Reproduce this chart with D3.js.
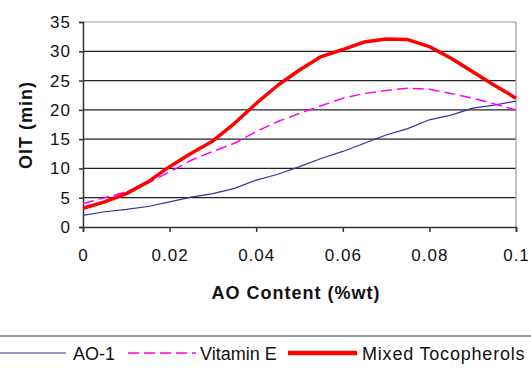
<!DOCTYPE html>
<html lang="en">
<head>
  <meta charset="utf-8">
  <title>OIT vs AO content</title>
  <script src="https://d3js.org/d3.v7.min.js"></script>
  <style>
    body { margin: 0; background: #fff; }
    text { font-family: "Liberation Sans", Arial, sans-serif; }
  </style>
</head>
<body>
<script>
  // AO content (%wt), one reading every 0.005
  var aoContent = d3.range(0, 21).map(function(i) { return +(i * 0.005).toFixed(3); });

  var ao1 = [2.0, 2.6, 3.0, 3.5, 4.3, 5.1, 5.7, 6.6, 8.0, 9.0, 10.3,
             11.7, 12.9, 14.3, 15.7, 16.8, 18.3, 19.1, 20.3, 20.8, 21.5];
  var vitaminE = [4.0, 5.0, 6.0, 7.5, 9.4, 11.4, 12.9, 14.3, 16.3, 18.0, 19.4,
                  20.7, 22.0, 22.8, 23.3, 23.7, 23.5, 22.8, 22.0, 21.0, 20.0];
  var mixedToco = [3.2, 4.3, 5.7, 7.7, 10.3, 12.6, 14.7, 17.7, 21.1, 24.2, 26.8,
                   29.1, 30.3, 31.6, 32.1, 32.0, 30.8, 28.8, 26.5, 24.2, 22.0];

  var xTicks = [0, 0.02, 0.04, 0.06, 0.08, 0.1];
  var yTicks = [0, 5, 10, 15, 20, 25, 30, 35];

  var series = [
    { name: "AO-1", values: ao1, color: "#333399", width: 1.2, dash: null },
    { name: "Vitamin E", values: vitaminE, color: "#ff00ff", width: 1.5, dash: "11,5" },
    { name: "Mixed Tocopherols", values: mixedToco, color: "#ff0000", width: 3.5, dash: null }
  ];

  var w = 531, h = 368;
  // plot area edges (don't use "top", it clashes with window.top)
  var pl = 83, pr = 516, pt = 22, pb = 227;

  var svg = d3.select("body").append("svg")
    .attr("width", w)
    .attr("height", h);

  var x = d3.scaleLinear().domain([0, 0.1]).range([pl, pr]);
  var y = d3.scaleLinear().domain([0, 35]).range([pb, pt]);

  // gridlines
  svg.selectAll("line.grid")
    .data(yTicks.slice(1, -1))
    .enter().append("line")
    .attr("class", "grid")
    .attr("x1", pl).attr("x2", pr)
    .attr("y1", function(d) { return y(d); })
    .attr("y2", function(d) { return y(d); })
    .attr("stroke", "#222")
    .attr("stroke-width", 1.2);

  // plot border top + right
  svg.append("path")
    .attr("d", "M" + pl + "," + pt + "H" + pr + "V" + pb)
    .attr("fill", "none")
    .attr("stroke", "#999")
    .attr("stroke-width", 1.2);

  // axes
  var yAxis = svg.append("g")
    .attr("transform", "translate(" + pl + ",0)")
    .call(d3.axisLeft(y).tickValues(yTicks).tickSize(4).tickPadding(8));
  var xAxis = svg.append("g")
    .attr("transform", "translate(0," + pb + ")")
    .call(d3.axisBottom(x).tickValues(xTicks).tickSize(5).tickPadding(17)
      .tickFormat(function(d) { return d === 0 ? "0" : String(+d.toFixed(2)); }));

  [xAxis, yAxis].forEach(function(g) {
    g.selectAll("path, line").attr("stroke", "#333").attr("stroke-width", 1.5);
    g.selectAll("text").attr("font-size", 17).attr("fill", "#111")
      .attr("letter-spacing", "1px")
      .attr("font-family", "Liberation Sans, Arial, sans-serif");
  });

  // lines
  var line = d3.line()
    .x(function(d, i) { return x(aoContent[i]); })
    .y(function(d) { return y(d); });

  series.forEach(function(s) {
    svg.append("path")
      .datum(s.values)
      .attr("d", line)
      .attr("fill", "none")
      .attr("stroke", s.color)
      .attr("stroke-width", s.width)
      .attr("stroke-dasharray", s.dash)
      .attr("stroke-linejoin", "round");
  });

  // axis titles
  svg.append("text")
    .attr("x", 296).attr("y", 299)
    .attr("text-anchor", "middle")
    .attr("font-size", 18).attr("font-weight", "bold")
    .attr("letter-spacing", "1px")
    .attr("fill", "#111")
    .text("AO Content (%wt)");

  svg.append("text")
    .attr("transform", "translate(32,125) rotate(-90)")
    .attr("text-anchor", "middle")
    .attr("font-size", 18).attr("font-weight", "bold")
    .attr("letter-spacing", "1px")
    .attr("fill", "#111")
    .text("OIT (min)");

  // legend
  svg.append("line")
    .attr("x1", 0).attr("x2", w)
    .attr("y1", 336).attr("y2", 336)
    .attr("stroke", "#333").attr("stroke-width", 1.2);

  var legendPos = [
    { x1: 0, x2: 66, tx: 73 },
    { x1: 128, x2: 196, tx: 200 },
    { x1: 288, x2: 357, tx: 362 }
  ];
  series.forEach(function(s, i) {
    var p = legendPos[i];
    svg.append("line")
      .attr("x1", p.x1).attr("x2", p.x2)
      .attr("y1", 353).attr("y2", 353)
      .attr("stroke", s.color)
      .attr("stroke-width", i === 2 ? 4.5 : s.width)
      .attr("stroke-dasharray", s.dash);
    svg.append("text")
      .attr("x", p.tx).attr("y", 360)
      .attr("font-size", 18).attr("fill", "#111")
      .attr("letter-spacing", i === 2 ? "0.8px" : null)
      .text(s.name);
  });
</script>
</body>
</html>
